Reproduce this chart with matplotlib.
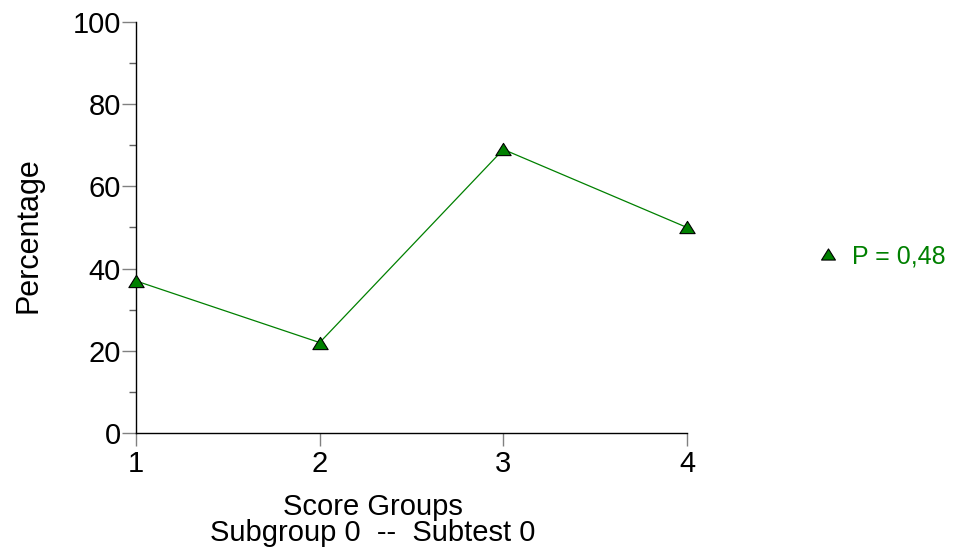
import matplotlib
matplotlib.use("Agg")
import matplotlib.pyplot as plt
from matplotlib.path import Path
from matplotlib.ticker import MultipleLocator

# data
score_groups = [1, 2, 3, 4]
percentages = [37, 22, 69, 50]
series_label = "P = 0,48"

GREEN = "#008000"
W, H = 968, 552

# slightly flattened triangle, like the reference markers
tri = Path([(0, 0.8), (-1, -0.8), (1, -0.8), (0, 0.8)],
           [Path.MOVETO, Path.LINETO, Path.LINETO, Path.CLOSEPOLY])

plt.rcParams["font.family"] = ["Liberation Sans", "DejaVu Sans"]

fig = plt.figure(figsize=(W / 100, H / 100), dpi=100)
ax = fig.add_axes([136 / W, 1 - 433 / H, (687 - 136) / W, (433 - 22) / H])

ax.plot(score_groups, percentages, color=GREEN, linewidth=0.9,
        marker=tri, markersize=11, markerfacecolor=GREEN,
        markeredgecolor="black", markeredgewidth=0.8,
        label=series_label, clip_on=False, zorder=3)

ax.set_xlim(1, 4)
ax.set_ylim(0, 100)
ax.set_xticks(score_groups)
ax.yaxis.set_major_locator(MultipleLocator(20))
ax.yaxis.set_minor_locator(MultipleLocator(10))

for side in ("top", "right"):
    ax.spines[side].set_visible(False)
for side in ("left", "bottom"):
    ax.spines[side].set_color("black")
    ax.spines[side].set_linewidth(1.0)

ax.tick_params(axis="y", which="major", length=10, width=1, color="#808080",
               labelsize=21, pad=1)
ax.tick_params(axis="y", which="minor", length=5, width=1, color="#606060")
ax.tick_params(axis="x", which="major", length=9, width=1, color="#808080",
               labelsize=21, pad=3)

# axis titles placed directly where the reference has them
fig.text(28.5 / W, 1 - 235 / H, "Percentage", fontsize=22, rotation=90,
         ha="center", va="center")
fig.text(373 / W, 1 - 515 / H, "Score Groups", fontsize=21,
         ha="center", va="baseline")
fig.text(373 / W, 1 - 541 / H, "Subgroup 0  --  Subtest 0", fontsize=21,
         ha="center", va="baseline")

fs = 18
hl = 0.8
leg = ax.legend(loc="center left", bbox_to_anchor=((828 - hl * fs * 100 / 72 / 2) / W, 1 - 256 / H),
                bbox_transform=fig.transFigure, frameon=False, borderpad=0,
                borderaxespad=0, fontsize=fs, handlelength=hl, handletextpad=0.55,
                labelcolor=GREEN)
for h in leg.legend_handles:
    h.set_linestyle("none")
    h.set_markersize(10)

fig.savefig("out.png", dpi=100)
